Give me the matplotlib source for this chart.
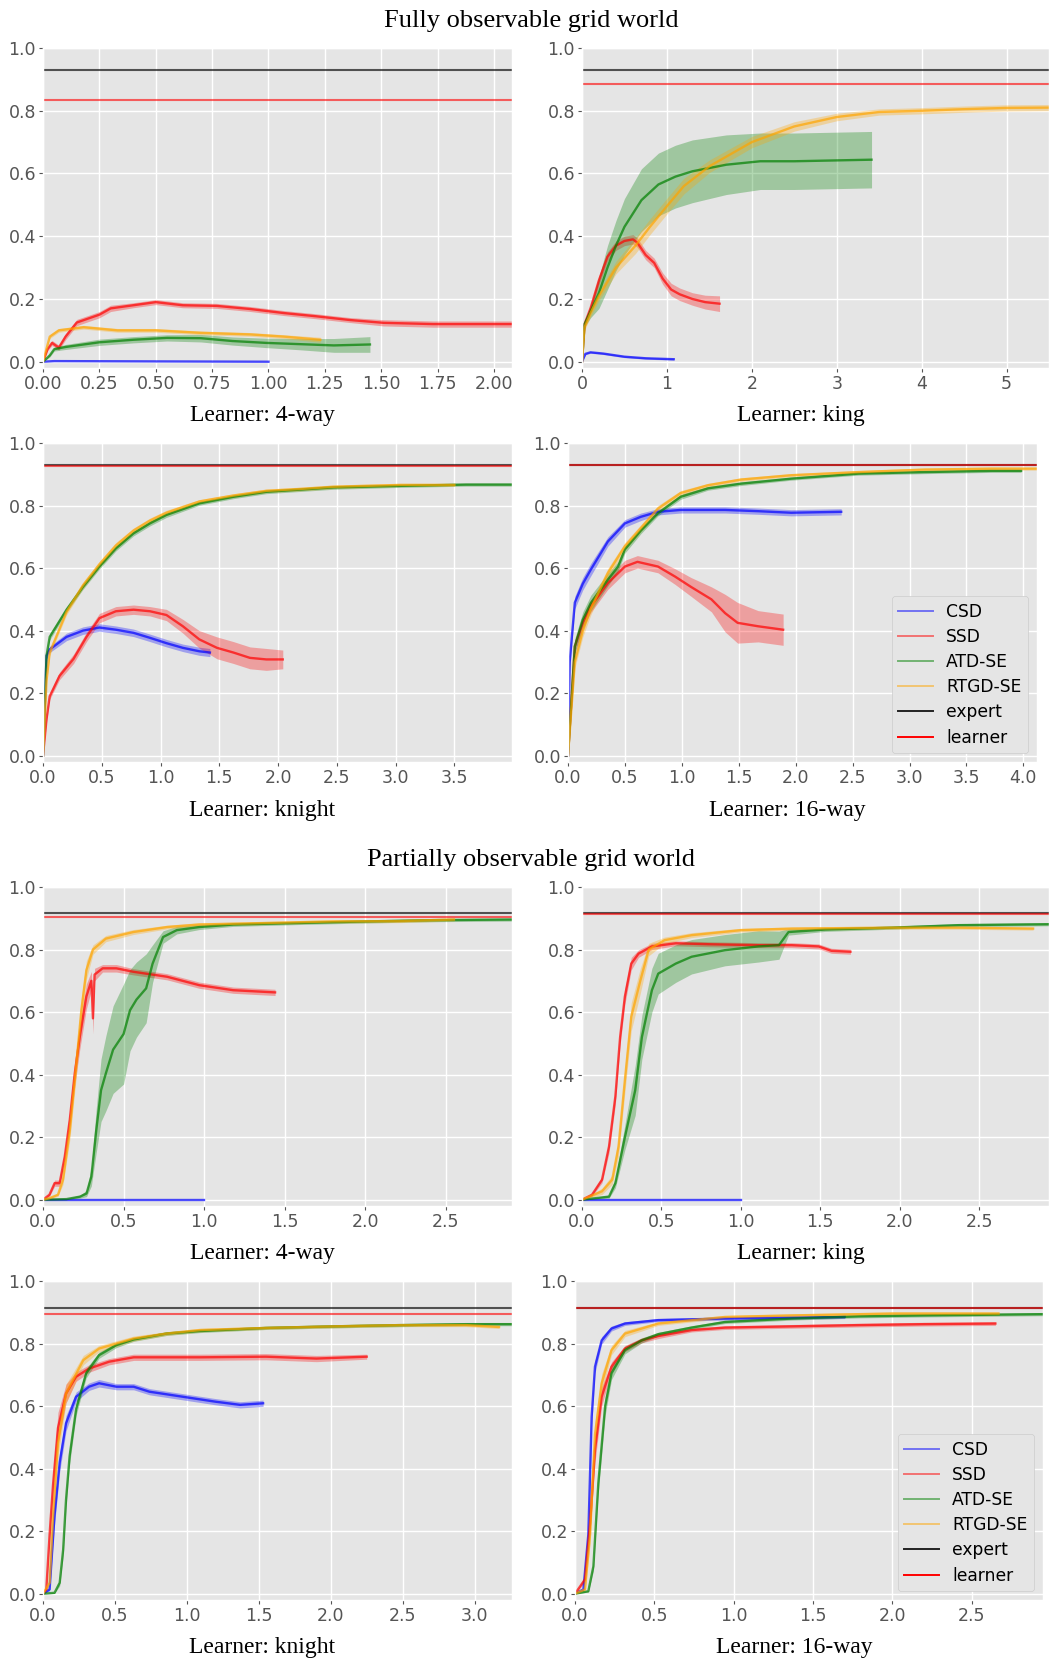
"""Learning curves for grid world learners (fully / partially observable)."""

import matplotlib
matplotlib.use("Agg")
import matplotlib.pyplot as plt
import numpy as np
from matplotlib.lines import Line2D
from matplotlib.ticker import MultipleLocator

# ---------------------------------------------------------------- data
# each series: (x, mean, band half-width)
SERIES_NAMES = ["CSD", "SSD", "ATD-SE", "RTGD-SE"]
REF_NAMES = ["expert", "learner"]

# Fully observable, learner 4-way
F_4WAY_CSD = [(0, 0, 0), (0.05, 0.002, 0), (1.0, 0.0, 0)]
F_4WAY_SSD = [(0, 0, .003), (0.02, 0.04, .005), (0.04, 0.06, .008), (0.07, 0.045, .008),
              (0.10, 0.08, .01), (0.15, 0.125, .01), (0.21, 0.14, .01), (0.25, 0.15, .01),
              (0.30, 0.17, .01), (0.40, 0.18, .008), (0.50, 0.19, .008), (0.62, 0.18, .008),
              (0.77, 0.178, .008), (0.92, 0.168, .008), (1.07, 0.155, .008), (1.21, 0.145, .008),
              (1.36, 0.133, .008), (1.51, 0.124, .01), (1.73, 0.12, .01), (2.08, 0.12, .01)]
F_4WAY_ATD = [(0, 0, 0), (0.03, 0.02, .005), (0.05, 0.04, .006), (0.10, 0.047, .008),
              (0.25, 0.062, .01), (0.40, 0.07, .01), (0.55, 0.076, .01), (0.70, 0.075, .012),
              (0.84, 0.066, .013), (0.99, 0.06, .015), (1.14, 0.056, .018), (1.29, 0.052, .022),
              (1.45, 0.055, .025)]
F_4WAY_RTGD = [(0, 0, 0), (0.03, 0.08, .006), (0.07, 0.10, .006), (0.18, 0.11, .006),
               (0.33, 0.10, .006), (0.50, 0.10, .006), (0.70, 0.092, .006), (0.92, 0.087, .006),
               (1.07, 0.08, .006), (1.23, 0.07, .008)]

# Fully observable, learner king
F_KING_CSD = [(0, 0, 0), (0.04, 0.025, .003), (0.1, 0.03, .003), (0.25, 0.026, .003),
              (0.5, 0.016, .003), (0.75, 0.011, .003), (1.08, 0.008, .003)]
F_KING_SSD = [(0, 0, 0), (0.03, 0.12, .01), (0.1, 0.17, .012), (0.2, 0.26, .015), (0.3, 0.335, .015),
              (0.4, 0.37, .015), (0.5, 0.385, .015), (0.6, 0.39, .015), (0.65, 0.38, .015),
              (0.75, 0.34, .015), (0.85, 0.315, .015), (0.95, 0.265, .018), (1.05, 0.23, .02),
              (1.15, 0.215, .02), (1.3, 0.2, .02), (1.45, 0.19, .022), (1.62, 0.185, .025)]
F_KING_ATD = [(0, 0, 0), (0.03, 0.12, .01), (0.1, 0.16, .02), (0.2, 0.22, .05), (0.3, 0.3, .07),
              (0.4, 0.37, .08), (0.5, 0.43, .09), (0.7, 0.515, .1), (0.9, 0.565, .1), (1.1, 0.59, .1),
              (1.3, 0.607, .1), (1.7, 0.628, .095), (2.1, 0.639, .09), (2.5, 0.639, .09),
              (3.41, 0.644, .09)]
F_KING_RTGD = [(0, 0, 0), (0.03, 0.11, .01), (0.1, 0.155, .012), (0.2, 0.21, .015), (0.4, 0.3, .02),
               (0.63, 0.37, .025), (0.8, 0.43, .025), (1.0, 0.496, .025), (1.2, 0.56, .025),
               (1.5, 0.623, .02), (2.0, 0.70, .018), (2.5, 0.75, .015), (3.0, 0.78, .012),
               (3.5, 0.796, .01), (4.0, 0.80, .01), (4.5, 0.805, .01), (5.0, 0.809, .01),
               (5.5, 0.81, .01)]

# Fully observable, learner knight
F_KNIGHT_CSD = [(0, 0, 0), (0.03, 0.32, .01), (0.057, 0.34, .01), (0.2, 0.38, .012),
                (0.34, 0.40, .012), (0.48, 0.41, .012), (0.62, 0.403, .012), (0.77, 0.393, .012),
                (0.91, 0.377, .012), (1.05, 0.36, .012), (1.19, 0.345, .012), (1.33, 0.334, .013),
                (1.42, 0.33, .013)]
F_KNIGHT_SSD = [(0, 0, 0), (0.03, 0.117, .01), (0.057, 0.19, .01), (0.14, 0.255, .012),
                (0.26, 0.31, .015), (0.37, 0.38, .015), (0.48, 0.44, .015), (0.62, 0.462, .015),
                (0.77, 0.467, .015), (0.91, 0.462, .015), (1.05, 0.45, .018), (1.19, 0.414, .022),
                (1.33, 0.372, .028), (1.48, 0.345, .035), (1.62, 0.33, .035), (1.76, 0.313, .035),
                (1.9, 0.308, .035), (2.04, 0.308, .03)]
F_KNIGHT_ATD = [(0, 0, 0), (0.03, 0.32, .01), (0.057, 0.38, .01), (0.2, 0.467, .008),
                (0.34, 0.54, .008), (0.48, 0.605, .008), (0.62, 0.663, .008), (0.77, 0.711, .008),
                (0.91, 0.743, .008), (1.05, 0.77, .008), (1.33, 0.807, .006), (1.62, 0.828, .006),
                (1.9, 0.844, .006), (2.19, 0.851, .006), (2.47, 0.858, .006), (3.04, 0.863, .005),
                (3.6, 0.867, .005), (3.99, 0.867, .005)]
F_KNIGHT_RTGD = [(0, 0, 0), (0.03, 0.24, .01), (0.057, 0.33, .01), (0.2, 0.46, .01),
                 (0.34, 0.545, .01), (0.48, 0.612, .01), (0.62, 0.672, .01), (0.77, 0.72, .008),
                 (0.91, 0.752, .008), (1.05, 0.777, .008), (1.33, 0.813, .006), (1.62, 0.832, .006),
                 (1.9, 0.847, .006), (2.19, 0.853, .006), (2.47, 0.86, .006), (3.04, 0.866, .005),
                 (3.5, 0.866, .005)]

# Fully observable, learner 16-way
F_16WAY_CSD = [(0, 0, 0), (0.015, 0.3, .02), (0.06, 0.49, .02), (0.13, 0.55, .02), (0.2, 0.595, .02),
               (0.35, 0.685, .015), (0.5, 0.743, .012), (0.64, 0.764, .012), (0.79, 0.78, .01),
               (0.99, 0.786, .01), (1.38, 0.786, .01), (1.67, 0.782, .01), (1.96, 0.777, .01),
               (2.4, 0.78, .01)]
F_16WAY_SSD = [(0, 0, 0), (0.06, 0.35, .02), (0.13, 0.425, .02), (0.2, 0.478, .02), (0.35, 0.552, .02),
               (0.5, 0.605, .02), (0.61, 0.62, .02), (0.79, 0.605, .02), (0.94, 0.573, .025),
               (1.08, 0.54, .03), (1.26, 0.5, .04), (1.38, 0.456, .06), (1.49, 0.425, .065),
               (1.67, 0.414, .05), (1.89, 0.403, .05)]
F_16WAY_ATD = [(0, 0, 0), (0.06, 0.35, .025), (0.13, 0.435, .025), (0.2, 0.488, .025),
               (0.35, 0.563, .02), (0.44, 0.605, .015), (0.5, 0.66, .012), (0.64, 0.72, .01),
               (0.79, 0.775, .008), (0.99, 0.828, .008), (1.23, 0.855, .006), (1.52, 0.87, .006),
               (1.96, 0.886, .005), (2.55, 0.902, .005), (3.13, 0.907, .005), (3.72, 0.911, .005),
               (3.98, 0.911, .005)]
F_16WAY_RTGD = [(0, 0, 0), (0.06, 0.3, .02), (0.13, 0.4, .02), (0.2, 0.47, .02), (0.35, 0.584, .015),
                (0.5, 0.67, .012), (0.79, 0.79, .01), (0.99, 0.84, .008), (1.23, 0.865, .006),
                (1.52, 0.883, .006), (1.96, 0.897, .005), (2.55, 0.907, .005), (3.13, 0.915, .005),
                (3.72, 0.918, .005), (4.12, 0.918, .005)]

# Partially observable, learner 4-way
P_4WAY_CSD = [(0, 0, 0), (1.0, 0, 0)]
P_4WAY_SSD = [(0, 0, 0), (0.04, 0.016, .005), (0.072, 0.053, .01), (0.103, 0.053, .01),
              (0.135, 0.138, .02), (0.166, 0.255, .03), (0.197, 0.404, .04), (0.228, 0.52, .04),
              (0.269, 0.65, .04), (0.30, 0.70, .03), (0.31, 0.58, .05), (0.32, 0.72, .02),
              (0.37, 0.74, .012), (0.455, 0.74, .012), (0.56, 0.729, .01), (0.77, 0.713, .01),
              (0.97, 0.686, .01), (1.18, 0.67, .01), (1.44, 0.663, .01)]
P_4WAY_ATD = [(0, 0, 0), (0.145, 0.002, .002), (0.23, 0.01, .005), (0.27, 0.02, .01),
              (0.30, 0.074, .03), (0.33, 0.22, .07), (0.36, 0.35, .1), (0.39, 0.404, .12),
              (0.435, 0.48, .14), (0.5, 0.53, .16), (0.54, 0.606, .13), (0.58, 0.64, .12),
              (0.64, 0.676, .11), (0.68, 0.755, .06), (0.745, 0.84, .02), (0.83, 0.862, .012),
              (0.97, 0.872, .008), (1.18, 0.88, .006), (1.59, 0.885, .005), (2.01, 0.89, .005),
              (2.42, 0.894, .005), (2.91, 0.896, .005)]
P_4WAY_RTGD = [(0, 0, 0), (0.04, 0.005, .003), (0.093, 0.016, .005), (0.124, 0.064, .015),
               (0.166, 0.22, .03), (0.207, 0.436, .04), (0.238, 0.606, .04), (0.269, 0.734, .03),
               (0.31, 0.80, .015), (0.39, 0.835, .01), (0.56, 0.856, .008), (0.77, 0.872, .006),
               (0.97, 0.88, .006), (1.39, 0.885, .005), (1.8, 0.89, .005), (2.21, 0.891, .005),
               (2.55, 0.896, .005)]

# Partially observable, learner king
P_KING_CSD = [(0, 0, 0), (1.0, 0, 0)]
P_KING_SSD = [(0, 0, 0), (0.063, 0.016, .005), (0.126, 0.064, .01), (0.17, 0.17, .02),
              (0.21, 0.33, .025), (0.24, 0.52, .025), (0.27, 0.65, .025), (0.31, 0.755, .02),
              (0.356, 0.787, .012), (0.44, 0.81, .01), (0.59, 0.82, .008), (0.8, 0.817, .008),
              (1.11, 0.814, .008), (1.32, 0.814, .008), (1.49, 0.81, .008), (1.57, 0.796, .008),
              (1.69, 0.793, .008)]
P_KING_ATD = [(0, 0, 0), (0.17, 0.01, .005), (0.21, 0.053, .015), (0.27, 0.2, .04),
              (0.335, 0.35, .08), (0.377, 0.52, .07), (0.44, 0.67, .07), (0.48, 0.723, .065),
              (0.59, 0.755, .06), (0.69, 0.777, .055), (0.9, 0.798, .05), (1.11, 0.81, .05),
              (1.24, 0.814, .045), (1.3, 0.856, .01), (1.53, 0.864, .006), (1.95, 0.87, .005),
              (2.37, 0.878, .005), (2.94, 0.881, .005)]
P_KING_RTGD = [(0, 0, 0), (0.126, 0.027, .01), (0.19, 0.064, .015), (0.23, 0.17, .03),
               (0.27, 0.383, .04), (0.31, 0.585, .045), (0.367, 0.70, .04), (0.42, 0.80, .02),
               (0.52, 0.83, .01), (0.69, 0.846, .008), (1.0, 0.862, .006), (1.32, 0.867, .005),
               (1.95, 0.87, .005), (2.37, 0.87, .005), (2.84, 0.867, .005)]

# Partially observable, learner knight
P_KNIGHT_CSD = [(0, 0, 0), (0.046, 0.014, .005), (0.08, 0.25, .03), (0.116, 0.42, .03),
                (0.16, 0.545, .025), (0.23, 0.63, .015), (0.32, 0.662, .012), (0.39, 0.673, .012),
                (0.51, 0.662, .01), (0.63, 0.662, .01), (0.74, 0.646, .01), (0.97, 0.63, .01),
                (1.2, 0.614, .01), (1.37, 0.604, .01), (1.53, 0.609, .01)]
P_KNIGHT_SSD = [(0, 0, 0), (0.023, 0.014, .005), (0.046, 0.19, .03), (0.07, 0.35, .04),
                (0.104, 0.53, .05), (0.16, 0.64, .03), (0.23, 0.694, .015), (0.32, 0.72, .012),
                (0.46, 0.742, .01), (0.63, 0.756, .01), (1.09, 0.756, .01), (1.55, 0.758, .01),
                (1.9, 0.752, .01), (2.25, 0.758, .008)]
P_KNIGHT_ATD = [(0, 0, 0), (0.08, 0.003, .002), (0.116, 0.035, .01), (0.14, 0.14, .02),
                (0.16, 0.3, .025), (0.185, 0.44, .025), (0.23, 0.59, .02), (0.3, 0.705, .015),
                (0.39, 0.763, .01), (0.51, 0.795, .008), (0.63, 0.813, .006), (0.86, 0.832, .006),
                (1.09, 0.84, .005), (1.55, 0.85, .005), (2.02, 0.855, .005), (2.48, 0.859, .005),
                (2.94, 0.862, .005), (3.26, 0.862, .005)]
P_KNIGHT_RTGD = [(0, 0, 0), (0.046, 0.035, .01), (0.07, 0.25, .03), (0.104, 0.48, .04),
                 (0.16, 0.64, .03), (0.28, 0.747, .015), (0.39, 0.784, .01), (0.63, 0.816, .008),
                 (0.86, 0.832, .006), (1.09, 0.843, .006), (1.55, 0.85, .005), (2.02, 0.855, .005),
                 (2.48, 0.859, .005), (2.94, 0.859, .005), (3.17, 0.853, .005)]

# Partially observable, learner 16-way
P_16WAY_CSD = [(0, 0, 0), (0.053, 0.014, .005), (0.084, 0.19, .03), (0.105, 0.566, .03),
               (0.126, 0.726, .02), (0.168, 0.81, .012), (0.23, 0.848, .008), (0.315, 0.864, .006),
               (0.525, 0.875, .005), (0.945, 0.88, .005), (1.7, 0.885, .005)]
P_16WAY_SSD = [(0, 0, 0), (0.063, 0.046, .01), (0.095, 0.226, .03), (0.126, 0.46, .04),
               (0.168, 0.63, .03), (0.23, 0.726, .015), (0.315, 0.784, .01), (0.42, 0.81, .008),
               (0.525, 0.824, .008), (0.735, 0.843, .006), (0.945, 0.851, .006), (1.37, 0.855, .006),
               (1.79, 0.859, .006), (2.2, 0.862, .006), (2.65, 0.864, .006)]
P_16WAY_ATD = [(0, 0, 0), (0.084, 0.008, .003), (0.116, 0.088, .015), (0.147, 0.354, .03),
               (0.19, 0.6, .03), (0.23, 0.705, .02), (0.315, 0.779, .012), (0.42, 0.81, .008),
               (0.525, 0.83, .006), (0.735, 0.851, .006), (0.945, 0.869, .005), (1.37, 0.88, .005),
               (1.79, 0.887, .005), (2.2, 0.89, .005), (2.95, 0.894, .005)]
P_16WAY_RTGD = [(0, 0, 0), (0.063, 0.014, .005), (0.095, 0.19, .03), (0.126, 0.51, .04),
                (0.168, 0.673, .03), (0.23, 0.779, .015), (0.315, 0.832, .01), (0.525, 0.864, .006),
                (0.945, 0.885, .005), (1.37, 0.89, .005), (2.0, 0.896, .005), (2.67, 0.896, .005)]

PANEL_LABELS = ["Learner: 4-way", "Learner: king", "Learner: knight", "Learner: 16-way",
                "Learner: 4-way", "Learner: king", "Learner: knight", "Learner: 16-way"]
EXPERT_LEVEL = [0.931, 0.931, 0.931, 0.931, 0.917, 0.917, 0.915, 0.915]
LEARNER_LEVEL = [0.833, 0.884, 0.925, 0.931, 0.905, 0.913, 0.895, 0.915]
X_MAX = [2.08, 5.5, 3.99, 4.12, 2.91, 2.94, 3.26, 2.95]
X_STEP = [0.25, 1, 0.5, 0.5, 0.5, 0.5, 0.5, 0.5]
SECTION_TITLES = ["Fully observable grid world", "Partially observable grid world"]

PANEL_SERIES = [
    (F_4WAY_CSD, F_4WAY_SSD, F_4WAY_ATD, F_4WAY_RTGD),
    (F_KING_CSD, F_KING_SSD, F_KING_ATD, F_KING_RTGD),
    (F_KNIGHT_CSD, F_KNIGHT_SSD, F_KNIGHT_ATD, F_KNIGHT_RTGD),
    (F_16WAY_CSD, F_16WAY_SSD, F_16WAY_ATD, F_16WAY_RTGD),
    (P_4WAY_CSD, P_4WAY_SSD, P_4WAY_ATD, P_4WAY_RTGD),
    (P_KING_CSD, P_KING_SSD, P_KING_ATD, P_KING_RTGD),
    (P_KNIGHT_CSD, P_KNIGHT_SSD, P_KNIGHT_ATD, P_KNIGHT_RTGD),
    (P_16WAY_CSD, P_16WAY_SSD, P_16WAY_ATD, P_16WAY_RTGD),
]

# ---------------------------------------------------------------- layout
W, H = 1050, 1663
# axes boxes in pixels: left, top, right, bottom
AX_BOXES = [
    (43, 48, 512, 368), (582, 48, 1049, 368),
    (43, 443, 512, 762), (568, 443, 1037, 762),
    (43, 887, 512, 1206), (582, 887, 1049, 1206),
    (43, 1281, 512, 1600), (575, 1281, 1043, 1600),
]
LABEL_POS = [(262, 415), (801, 415), (262, 810), (787, 810),
             (262, 1253), (801, 1253), (262, 1647), (794, 1647)]
TITLE_POS = [(531, 21), (531, 860)]
LEGEND_PANELS = (3, 7)

COLORS = ["blue", "red", "green", "orange"]
SERIF = ["Liberation Serif", "DejaVu Serif"]


def fig_rect(box):
    left, top, right, bottom = box
    return [left / W, 1 - bottom / H, (right - left) / W, (bottom - top) / H]


def main() -> None:
    plt.style.use("ggplot")
    plt.rcParams["font.family"] = ["DejaVu Sans"]
    plt.rcParams["xtick.labelsize"] = 12.5
    plt.rcParams["ytick.labelsize"] = 12.5

    fig = plt.figure(figsize=(W / 100, H / 100), dpi=100)

    for i, series in enumerate(PANEL_SERIES):
        ax = fig.add_axes(fig_rect(AX_BOXES[i]))
        for data, color in zip(series, COLORS):
            arr = np.array(data, dtype=float)
            x, y, hw = arr[:, 0], arr[:, 1], arr[:, 2]
            ax.fill_between(x, y - hw, y + hw, color=color, alpha=0.3, linewidth=0)
            ax.plot(x, y, color=color, alpha=0.7, linewidth=1.7)
        ax.axhline(EXPERT_LEVEL[i], color="black", alpha=0.65, linewidth=1.5)
        ax.axhline(LEARNER_LEVEL[i], color="red", alpha=0.6, linewidth=1.5)

        ax.set_xlim(0, X_MAX[i])
        ax.set_ylim(-0.02, 1.0)
        ax.xaxis.set_major_locator(MultipleLocator(X_STEP[i]))
        ax.yaxis.set_major_locator(MultipleLocator(0.2))
        ax.tick_params(colors="#555555", length=3, pad=2)
        ax.grid(True, color="white", linewidth=1.0)

        cx, cy = LABEL_POS[i]
        fig.text(cx / W, 1 - cy / H, PANEL_LABELS[i], ha="center", va="center",
                 family=SERIF, fontsize=17)

        if i in LEGEND_PANELS:
            handles = [Line2D([], [], color=c, alpha=0.5, linewidth=1.4) for c in COLORS]
            handles.append(Line2D([], [], color="black", alpha=0.85, linewidth=1.4))
            handles.append(Line2D([], [], color="red", linewidth=1.4))
            ax.legend(handles, SERIES_NAMES + REF_NAMES, loc="lower right", fontsize=12.3,
                      labelspacing=0.42, facecolor="#E5E5E5", edgecolor="#CCCCCC",
                      framealpha=1.0)

    for (tx, ty), title in zip(TITLE_POS, SECTION_TITLES):
        fig.text(tx / W, 1 - ty / H, title, ha="center", va="center", family=SERIF, fontsize=19)

    fig.savefig("out.png", dpi=100)


if __name__ == "__main__":
    main()
